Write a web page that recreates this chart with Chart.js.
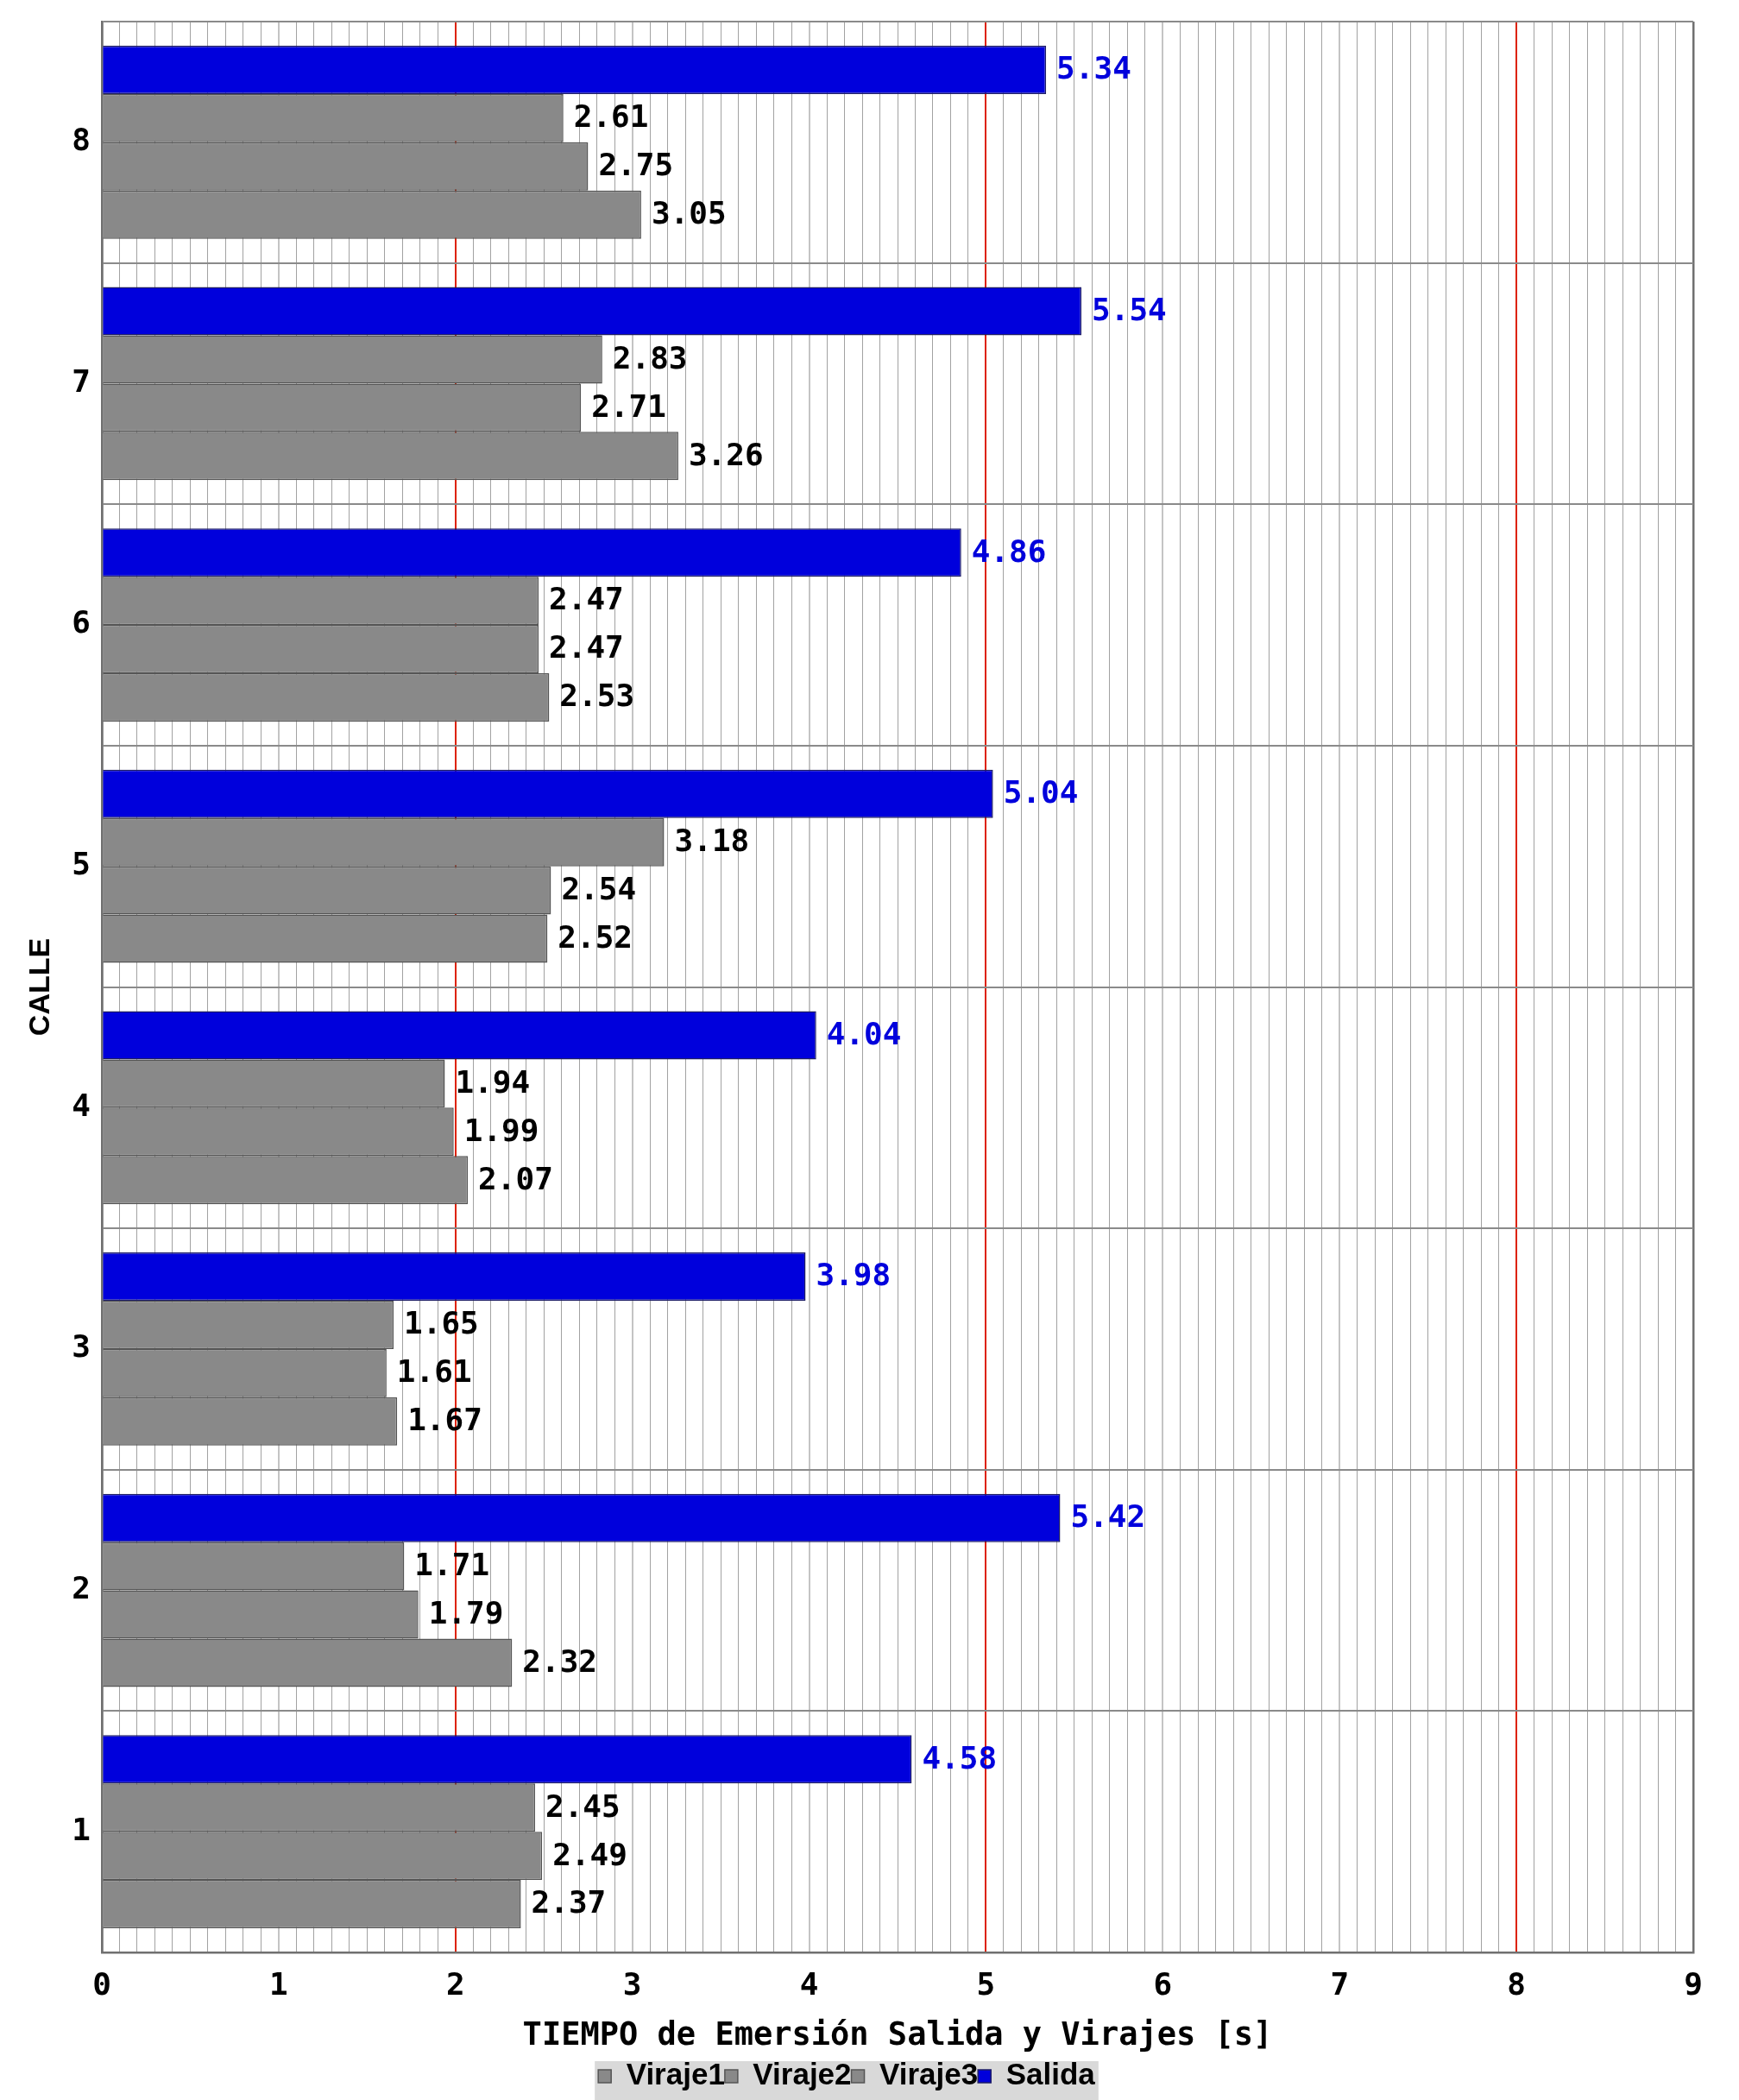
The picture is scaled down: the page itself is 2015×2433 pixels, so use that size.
<!DOCTYPE html>
<html><head><meta charset="utf-8">
<script src="https://cdn.jsdelivr.net/npm/chart.js@4/dist/chart.umd.min.js"></script>
<style>html,body{margin:0;padding:0;background:#fff}#wrap{width:2015px;height:2433px;position:relative}</style>
</head><body><div id="wrap"><canvas id="c"></canvas></div>
<script>
// ---- data ----
const calles = ['1','2','3','4','5','6','7','8'];
const salida  = [4.58, 5.42, 3.98, 4.04, 5.04, 4.86, 5.54, 5.34];
const viraje1 = [2.37, 2.32, 1.67, 2.07, 2.52, 2.53, 3.26, 3.05];
const viraje2 = [2.49, 1.79, 1.61, 1.99, 2.54, 2.47, 2.71, 2.75];
const viraje3 = [2.45, 1.71, 1.65, 1.94, 3.18, 2.47, 2.83, 2.61];
const xMin = 0, xMax = 9, xMinorStep = 0.1;
const redLines = [2, 5, 8];
const xTitle = 'TIEMPO de Emersión Salida y Virajes [s]';
const yTitle = 'CALLE';

// ---- style ----
const GRAY = '#898989', GRAY_B = '#555555';
const BLUE = '#0000dc', BLUE_B = '#1c1c66';
const PLOT_BOTTOM_GAP = 171;

const isInt = v => Math.abs(v - Math.round(v)) < 1e-6;

const valueLabels = {
  id: 'valueLabels',
  afterDatasetsDraw(chart) {
    const ctx = chart.ctx;
    ctx.save();
    ctx.font = 'bold 36px "DejaVu Sans Mono"';
    ctx.textBaseline = 'middle';
    ctx.textAlign = 'left';
    chart.data.datasets.forEach((ds, i) => {
      const meta = chart.getDatasetMeta(i);
      meta.data.forEach((bar, j) => {
        ctx.fillStyle = ds.labelColor;
        ctx.fillText(ds.data[j].toFixed(2), bar.x + 12, bar.y + 1);
      });
    });
    ctx.restore();
  }
};

const legendBg = {
  id: 'legendBg',
  beforeDraw(chart) {
    const lg = chart.legend;
    if (!lg || !lg.legendHitBoxes || !lg.legendHitBoxes.length) return;
    const hb = lg.legendHitBoxes;
    const l = Math.min(...hb.map(h => h.left)) - 4;
    const r = Math.max(...hb.map(h => h.left + h.width)) + 4;
    const ctx = chart.ctx;
    ctx.save();
    ctx.fillStyle = '#d9d9d9';
    ctx.fillRect(l, lg.top, r - l, chart.height - lg.top);
    ctx.restore();
  }
};

Chart.defaults.font.family = '"DejaVu Sans Mono"';
Chart.defaults.color = '#000';

new Chart(document.getElementById('c'), {
  type: 'bar',
  data: {
    labels: calles,
    datasets: [
      { label: 'Salida',  data: salida,  backgroundColor: BLUE, borderColor: BLUE_B, borderWidth: 1.5, labelColor: '#0000dc' },
      { label: 'Viraje3', data: viraje3, backgroundColor: GRAY, borderColor: GRAY_B, borderWidth: 1.5, labelColor: '#000' },
      { label: 'Viraje2', data: viraje2, backgroundColor: GRAY, borderColor: GRAY_B, borderWidth: 1.5, labelColor: '#000' },
      { label: 'Viraje1', data: viraje1, backgroundColor: GRAY, borderColor: GRAY_B, borderWidth: 1.5, labelColor: '#000' }
    ]
  },
  options: {
    indexAxis: 'y',
    responsive: true,
    maintainAspectRatio: false,
    devicePixelRatio: 1,
    animation: false,
    categoryPercentage: 0.8,
    barPercentage: 1.0,
    layout: { padding: { top: 25, right: 53, left: 0, bottom: 0 } },
    plugins: {
      tooltip: { enabled: false },
      legend: {
        position: 'bottom',
        reverse: true,
        labels: {
          boxWidth: 15, boxHeight: 15, padding: 0,
          font: { family: '"Liberation Sans"', weight: 'bold', size: 35 },
          color: '#000'
        }
      }
    },
    scales: {
      x: {
        type: 'linear', min: xMin, max: xMax,
        afterFit(scale) { scale.height = PLOT_BOTTOM_GAP - scale.chart.legend.height; },
        ticks: {
          stepSize: xMinorStep, autoSkip: false, maxRotation: 0, padding: 18,
          font: { weight: 'bold', size: 36 },
          callback: v => isInt(v) ? String(Math.round(v)) : ''
        },
        grid: {
          drawTicks: false,
          color: c => {
            const v = c.tick.value;
            if (isInt(v) && redLines.includes(Math.round(v))) return '#dd2200';
            if (Math.abs(v - xMin) < 1e-6 || Math.abs(v - xMax) < 1e-6) return '#707070';
            if (isInt(v)) return '#c4c4c4';
            return '#a2a2a2';
          },
          lineWidth: c => {
            const v = c.tick.value;
            if (Math.abs(v - xMin) < 1e-6 || Math.abs(v - xMax) < 1e-6) return 2.5;
            return isInt(v) ? 2 : 1;
          }
        },
        border: { display: true, color: '#707070', width: 2.5 },
        title: {
          display: true, text: xTitle, color: '#000',
          font: { weight: 'bold', size: 37 },
          padding: { top: 0, bottom: 6 }
        }
      },
      y: {
        type: 'category', reverse: true, offset: true,
        afterFit(scale) { scale.width = 118; scale.paddingTop = 0; scale.paddingBottom = 0; },
        ticks: { padding: 13, font: { weight: 'bold', size: 36 } },
        grid: { drawTicks: false, offset: true, color: '#8a8a8a', lineWidth: 2 },
        border: { display: true, color: '#707070', width: 2.5 },
        title: {
          display: true, text: yTitle, color: '#000',
          font: { family: '"Liberation Sans"', weight: 'bold', size: 34 },
          padding: { top: 27, bottom: 0 }
        }
      }
    }
  },
  plugins: [legendBg, valueLabels]
});
</script></body></html>
